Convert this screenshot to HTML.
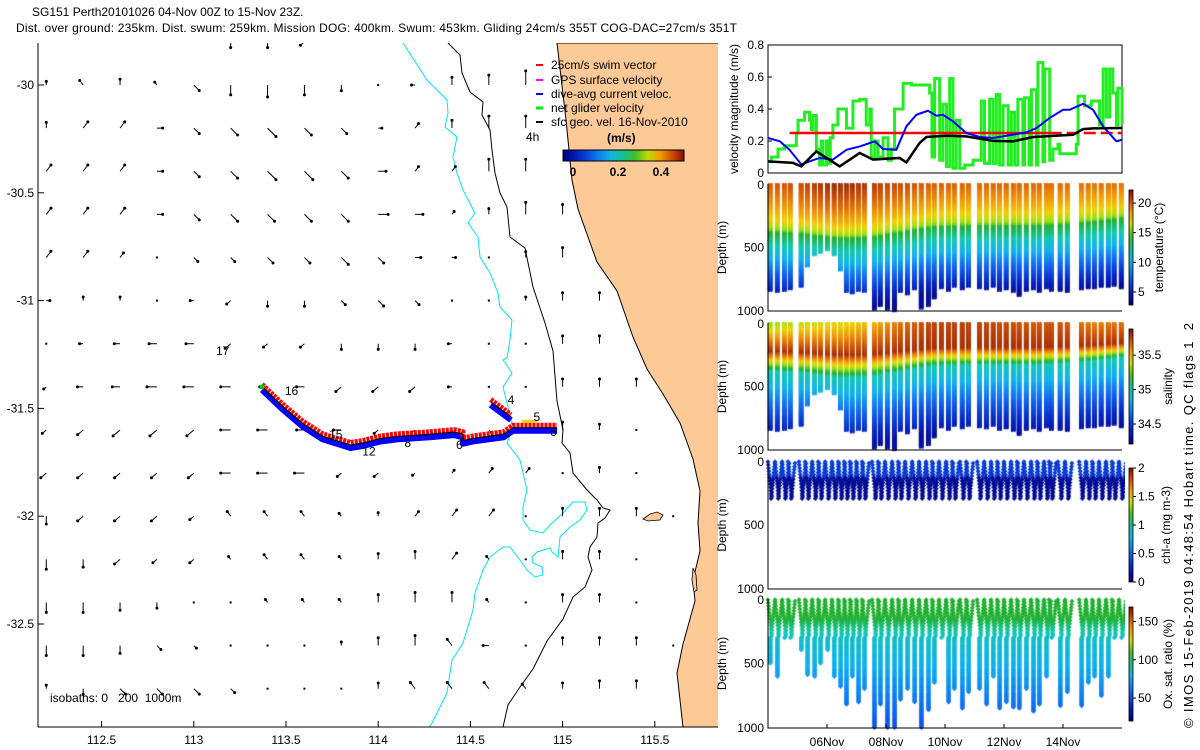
<!DOCTYPE html>
<html><head><meta charset="utf-8">
<style>
body{margin:0;background:#fff;width:1200px;height:750px;overflow:hidden;position:relative;font-family:"Liberation Sans",sans-serif}
svg{position:absolute;left:0;top:0}
canvas{position:absolute;left:760px;top:180px}
text{font-family:"Liberation Sans",sans-serif;font-size:12px;fill:#000;white-space:pre}
</style></head>
<body>
<canvas id="cv" width="365" height="555"></canvas>
<svg id="sv" width="1200" height="750" xmlns="http://www.w3.org/2000/svg">
<defs>
<clipPath id="mapclip"><rect x="38" y="43" width="680" height="684"/></clipPath>
<linearGradient id="gv" x1="0" y1="1" x2="0" y2="0"></linearGradient>
<linearGradient id="gh" x1="0" y1="0" x2="1" y2="0"></linearGradient>
</defs>
<text x="32" y="16">SG151 Perth20101026 04-Nov 00Z to 15-Nov 23Z.</text>
<text x="16" y="32" textLength="721">Dist. over ground: 235km. Dist. swum: 259km. Mission DOG: 400km. Swum: 453km. Gliding 24cm/s 355T COG-DAC=27cm/s 351T</text>
<g id="map" clip-path="url(#mapclip)">
<polygon fill="#fcc997" stroke="#000" stroke-width="1" points="557,43 566,120 572,180 578,209 597,262 617,291 633,337 647,369 663,394 680,423 693,459 700,491 698,523 700,551 693,580 695,601 683,644 677,673 683,727 720,727 720,43"/>
<polygon fill="#fcc997" stroke="#000" stroke-width="0.8" points="643,519 650,514 657,512 663,515 660,520 648,521"/>
<polygon fill="#fcc997" stroke="#000" stroke-width="0.8" points="693,568 696,575 697,590 694,592 692,580"/>
<polyline fill="none" stroke="#00e5ee" stroke-width="1" points="403,43 427,80 447,100 448,113 445,127 457,137 453,157 457,173 463,190 475,213 468,223 478,237 480,257 490,273 498,293 500,307 512,320 510,340 507,358 503,360 512,373 503,387 513,427 507,443 520,460 523,473 527,490 523,507 523,520 530,530 543,533 550,525 563,513 573,502 585,502 587,510 580,520 570,527 560,537 558,557 552,552 550,548 537,552 532,557 533,563 542,567 543,575 535,577 527,570 520,560 510,547 503,547 490,557 483,570 475,593 473,610 463,643 452,660 447,693 430,727"/>
<polyline fill="none" stroke="#000" stroke-width="1" points="448,43 460,55 462,73 470,92 483,102 482,115 490,130 492,150 495,173 500,193 507,207 510,237 525,248 533,287 545,323 553,351 557,401 563,430 562,443 570,453 573,473 587,490 597,500 603,508 610,510 605,518 598,523 597,537 590,547 588,557 592,570 585,587 573,597 563,619 547,641 533,669 520,687 508,705 503,727"/>
<g id="arrows"></g>
<g id="track"></g>
</g>
<line x1="38" y1="43" x2="38" y2="727" stroke="#000"/>
<line x1="38" y1="727" x2="718" y2="727" stroke="#000"/>
<g id="mapticks"></g>
<text x="216" y="355">17</text>
<text x="526" y="141">4h</text>
<text x="50" y="702" xml:space="preserve">isobaths: 0   200  1000m</text>
<g>
<line x1="536" y1="65" x2="543" y2="65" stroke="#f00" stroke-width="2"/>
<text x="551" y="69">25cm/s swim vector</text>
<line x1="536" y1="80" x2="543" y2="80" stroke="#f0f" stroke-width="2"/>
<text x="551" y="84">GPS surface velocity</text>
<line x1="536" y1="94" x2="543" y2="94" stroke="#00f" stroke-width="2"/>
<text x="551" y="98">dive-avg current veloc.</text>
<line x1="536" y1="108" x2="543" y2="108" stroke="#0e0" stroke-width="3"/>
<text x="551" y="112">net glider velocity</text>
<line x1="536" y1="122" x2="543" y2="122" stroke="#000" stroke-width="2"/>
<text x="551" y="126">sfc geo. vel. 16-Nov-2010</text>
<text x="607" y="142" style="font-weight:bold">(m/s)</text>
<rect x="563" y="150" width="121" height="11" fill="url(#gh)" stroke="#000" stroke-width="1"/>
<text x="573" y="176" text-anchor="middle" style="font-weight:bold">0</text>
<text x="618" y="176" text-anchor="middle" style="font-weight:bold">0.2</text>
<text x="661" y="176" text-anchor="middle" style="font-weight:bold">0.4</text>
</g>
<g id="right"></g>
<text transform="translate(1193,728) rotate(-90)" textLength="405" style="font-size:13px">© IMOS 15-Feb-2019 04:48:54 Hobart time. QC flags 1  2</text>
</svg>
<script>
// ---------- map data ----------
const vecRows = [
['--','--','--','--','.0','S2','S2','c2','.0','--','--','--','--','--','--','--','--','--','--'],
['N1','d2','N2','d1','b3','S4','S5','S4','S2','.0','W1','N3','N4','N6','--','--','--','--','--'],
['N2','a3','a3','E2','b3','b4','b5','b4','b3','E1','a2','N3','N5','N5','--','--','--','--','--'],
['a3','a3','a3','E2','b3','b4','b5','b5','b4','E3','a2','a2','N5','N5','--','--','--','--','--'],
['a3','a3','a3','E2','b3','b4','b4','b4','b4','E4','E3','a1','N2','N5','N4','--','--','--','--'],
['a3','a3','a2','.0','b2','b2','b3','b3','b4','b3','E2','E1','.0','N2','N4','--','--','--','--'],
['E1','N1','N1','.0','W1','c2','S2','S2','b2','b3','b2','.0','.0','N1','N3','N3','--','--','--'],
['.0','W1','W2','W3','W3','c3','c2','c2','S2','S2','S2','W1','.0','.0','N3','N3','--','--','--'],
['c1','W2','W3','W4','W4','W4','W3','W3','c3','c3','c3','W1','.0','.0','N3','N3','N3','--','--'],
['c2','c3','c4','c4','c4','W4','W4','W3','W3','c2','c2','c2','b1','--','N3','N2','.0','--','--'],
['c3','c3','c3','c3','c3','W4','W4','W4','c2','c2','c1','a1','a2','a2','.0','N2','.0','--','--'],
['S3','c3','c3','c3','c2','d2','d2','d2','d1','N1','a2','a3','a3','.0','N3','N3','N3','.0','--'],
['S4','S3','c3','c2','c2','d1','d2','d2','d1','N2','N3','a3','d1','.0','N3','N3','.0','--','--'],
['S4','S4','S3','S2','.0','.0','d1','d1','d1','N3','N4','N4','d1','.0','N3','N3','.0','--','--'],
['S4','S4','S3','b2','b1','.0','.0','.0','N1','N3','N4','d3','W2','.0','N3','N3','N3','.0','--'],
['N1','S2','b3','b3','b3','b2','.0','.0','.0','N2','d3','d3','d3','d2','N2','N3','N3','--','--']
];
const trackLon = [113.37,113.48,113.59,113.70,113.85,113.92,114.01,114.10,114.28,114.41,114.46,114.46,114.51,114.68,114.73,114.97];
const trackLat = [-31.40,-31.49,-31.57,-31.63,-31.67,-31.66,-31.64,-31.63,-31.62,-31.61,-31.62,-31.65,-31.64,-31.62,-31.59,-31.59];
const branchLon = [114.61,114.72];
const branchLat = [-31.47,-31.54];
const trackLabels = ['16','15','12','8','6','4','5','6'];
const trackLabelLon = [113.53,113.77,113.95,114.16,114.44,114.72,114.86,114.95];
const trackLabelLat = [-31.42,-31.62,-31.70,-31.66,-31.67,-31.46,-31.54,-31.61];
const lonTicks = [112.5,113,113.5,114,114.5,115,115.5];
const latTicks = [-30,-30.5,-31,-31.5,-32,-32.5];

// ---------- right panel data ----------
const blueDay=[0,0.40,0.73,1.13,1.41,1.75,2.20,2.66,3.11,3.62,3.90,4.35,4.69,5.03,5.42,5.71,5.93,6.27,6.72,7.18,7.63,8.08,8.76,9.10,9.55,10.0,10.23,10.68,11.02,11.36,11.81,12.0];
const blueVal=[0.219,0.198,0.145,0.053,0.073,0.094,0.084,0.145,0.166,0.198,0.150,0.145,0.291,0.364,0.389,0.358,0.364,0.323,0.250,0.225,0.219,0.233,0.254,0.281,0.344,0.395,0.395,0.433,0.395,0.291,0.198,0.208];
const blackDay=[0,0.85,1.13,1.64,2.43,3.11,3.56,4.46,4.69,5.14,5.37,6.05,6.72,7.63,8.31,8.99,10.34,10.68,11.02,12.0];
const blackVal=[0.073,0.063,0.041,0.135,0.041,0.125,0.084,0.094,0.066,0.188,0.225,0.233,0.229,0.201,0.198,0.225,0.239,0.274,0.279,0.281];
const greenDay=[0,0.11,0.34,0.56,0.96,1.02,1.24,1.41,1.47,1.53,1.64,1.75,1.81,1.86,1.98,2.03,2.11,2.20,2.37,2.66,2.88,3.11,3.33,3.45,3.50,3.62,3.73,3.90,4.07,4.18,4.29,4.58,4.86,5.48,5.56,5.65,5.82,5.93,6.05,6.16,6.27,6.38,6.50,6.67,6.95,7.23,7.34,7.51,7.63,7.74,7.85,7.97,8.14,8.25,8.36,8.47,8.64,8.70,8.85,8.93,9.10,9.15,9.32,9.38,9.55,9.66,9.83,9.89,10.28,10.45,10.51,10.73,10.96,11.13,11.24,11.36,11.47,11.58,11.69,11.81,11.86,12.0];
const greenVal=[0.07,0.10,0.15,0.17,0.25,0.33,0.38,0.33,0.27,0.36,0.15,0.05,0.20,0.05,0.20,0.06,0.22,0.30,0.40,0.28,0.45,0.46,0.30,0.40,0.10,0.20,0.10,0.22,0.08,0.15,0.40,0.56,0.55,0.50,0.10,0.59,0.08,0.43,0.04,0.59,0.03,0.33,0.03,0.05,0.08,0.45,0.06,0.46,0.06,0.49,0.05,0.42,0.05,0.38,0.05,0.46,0.05,0.47,0.05,0.52,0.05,0.69,0.07,0.65,0.08,0.15,0.18,0.12,0.12,0.18,0.48,0.42,0.45,0.45,0.30,0.65,0.35,0.65,0.50,0.30,0.53,0.30];
const swimSpeed=0.25, swimStart=0.73, swimDashStart=9.55;
const velTicks=[0,0.2,0.4,0.6,0.8];
const dateTickDay=[2,4,6,8,10];
const dateTickLabel=['06Nov','08Nov','10Nov','12Nov','14Nov'];
const diveDay=[0.03,0.27,0.51,0.71,1.08,1.29,1.53,1.73,1.97,2.20,2.41,2.61,2.81,3.02,3.22,3.56,3.76,4.0,4.24,4.44,4.68,4.92,5.15,5.39,5.59,5.83,6.07,6.27,6.54,6.75,7.12,7.36,7.59,7.80,8.03,8.27,8.47,8.71,8.95,9.15,9.39,9.56,9.86,10.10,10.58,10.81,11.02,11.25,11.49,11.69,11.93];
const diveMax=[840,850,840,830,810,650,560,540,520,560,680,850,860,840,850,990,960,990,1000,850,870,830,980,960,900,820,840,810,830,810,820,830,810,840,830,850,880,840,830,850,820,840,840,850,830,820,820,810,810,800,820];
const oxMax=[500,600,300,300,400,590,600,500,400,600,680,820,600,800,700,1000,820,1000,1000,780,700,800,1000,860,650,300,800,700,850,720,700,820,600,850,800,840,850,700,870,820,600,300,830,720,830,650,600,750,600,300,300];
const tcDay=[0,1,2,2.5,3.5,4.5,5.5,7,9,10,11,12];
const tcDep=[380,390,420,430,420,380,340,330,330,320,300,270];
const surfT=[20,20.5,21.5,21.5,21,20.5,20,19.8,19.8,19.6,19.5,19.5];
const surfS=[35.3,35.35,35.4,35.4,35.5,35.65,35.75,35.75,35.7,35.7,35.6,35.65];
const tempTicks=[5,10,15,20], salTicks=[34.5,35,35.5], chlTicks=[0,0.5,1,1.5,2], oxTicks=[50,100,150];

// ---------- helpers ----------
const NS='http://www.w3.org/2000/svg';
function mk(tag, attrs, parent){const e=document.createElementNS(NS,tag);for(const k in attrs)e.setAttribute(k,attrs[k]);(parent||document.getElementById('sv')).appendChild(e);return e;}
const lonX = lon => 101.6 + (lon-112.5)*184.4;
const latY = lat => 85 + (-30-lat)*215.6;
const dayX = d => 768 + d*29.5;
const velY = v => 173 - v*160;
const stops=[[0,[0,0,128]],[0.12,[0,32,192]],[0.25,[16,96,240]],[0.37,[16,176,240]],[0.47,[16,200,176]],[0.57,[32,176,48]],[0.67,[160,224,16]],[0.74,[240,208,0]],[0.82,[240,144,0]],[0.9,[208,80,0]],[1,[128,16,0]]];
function cmap(t){t=Math.max(0,Math.min(1,t));for(let i=1;i<stops.length;i++){if(t<=stops[i][0]){const a=stops[i-1],b=stops[i],f=(t-a[0])/(b[0]-a[0]);return 'rgb('+[0,1,2].map(k=>Math.round(a[1][k]+(b[1][k]-a[1][k])*f)).join(',')+')';}}return 'rgb(128,16,0)';}
function interp(xs,ys,x){if(x<=xs[0])return ys[0];for(let i=1;i<xs.length;i++){if(x<=xs[i]){const f=(x-xs[i-1])/(xs[i]-xs[i-1]);return ys[i-1]+(ys[i]-ys[i-1])*f;}}return ys[ys.length-1];}
['gv','gh'].forEach(id=>{const g=document.getElementById(id);for(let i=0;i<=10;i++){const s=document.createElementNS(NS,'stop');s.setAttribute('offset',(i*10)+'%');s.setAttribute('stop-color',cmap(i/10));g.appendChild(s);}});

// ---------- vector field ----------
const dirs={N:[0,-1],S:[0,1],E:[1,0],W:[-1,0],a:[0.6,-0.8],b:[0.7,0.7],c:[-0.7,0.6],d:[-0.6,-0.8]};
const ag=document.getElementById('arrows');
vecRows.forEach((row,j)=>{const lat=-29.8-0.2*j;row.forEach((code,i)=>{
  if(code==='--')return;const lon=112.2+0.2*i;const x=lonX(lon),y=latY(lat);
  if(code[0]==='.'){const dt=mk('rect',{x:x-1,y:y-1,width:2,height:2,fill:'#000'},ag);
    
    return;}
  const d=dirs[code[0]],L=(+code[1])*2.1+1.5;const tx=x+d[0]*L,ty=y+d[1]*L;
  const ln=mk('line',{x1:x,y1:y,x2:tx,y2:ty,stroke:'#000','stroke-width':1},ag);
  
  
  const hd=mk('circle',{cx:tx,cy:ty,r:1.5,fill:'#000'},ag);
  
  
});});

// ---------- track ----------
const tg=document.getElementById('track');
function pts(lons,lats,dy){return lons.map((l,i)=>lonX(l)+','+(latY(lats[i])+dy)).join(' ');}
[[trackLon,trackLat],[branchLon,branchLat]].forEach(([lo,la],k)=>{
  const b=mk('polyline',{points:pts(lo,la,3),fill:'none',stroke:'#0000ff','stroke-width':6,'stroke-linejoin':'round'},tg);
  
  
  const r=mk('polyline',{points:pts(lo,la,-2.5),fill:'none',stroke:'#ff0000','stroke-width':5,'stroke-dasharray':'3 1','stroke-linejoin':'round'},tg);
  
  
  const c=mk('polyline',{points:pts(lo,la,0),fill:'none',stroke:'#000','stroke-width':1.2},tg);
  
  
});
const ys=mk('line',{x1:lonX(114.78),y1:latY(-31.56),x2:lonX(114.86),y2:latY(-31.56),stroke:'#f0d000','stroke-width':3},tg);


const st=mk('circle',{cx:lonX(trackLon[0]),cy:latY(trackLat[0]),r:2.5,fill:'#0c0'},tg);


trackLabels.forEach((s,i)=>{const t=mk('text',{x:lonX(trackLabelLon[i]),y:latY(trackLabelLat[i])+4,'text-anchor':'middle'},tg);t.textContent=s;
  
  });

// ---------- map ticks ----------
const mt=document.getElementById('mapticks');
lonTicks.forEach(l=>{const x=lonX(l);const tk=mk('line',{x1:x,y1:727,x2:x,y2:721,stroke:'#000'},mt);
  
  
  const t=mk('text',{x:x,y:744,'text-anchor':'middle'},mt);t.textContent=String(l);
  
  });
latTicks.forEach(l=>{const y=latY(l);const tk=mk('line',{x1:38,y1:y,x2:44,y2:y,stroke:'#000'},mt);
  
  
  const t=mk('text',{x:34,y:y+4,'text-anchor':'end'},mt);t.textContent=String(l);
  
  });

// ---------- velocity panel ----------
const rg=document.getElementById('right');
const box=mk('rect',{x:768,y:45,width:354,height:128,fill:'none',stroke:'#000'},rg);


velTicks.forEach(v=>{const y=velY(v);const tk=mk('line',{x1:768,y1:y,x2:772,y2:y,stroke:'#000'},rg);
  
  
  const t=mk('text',{x:764,y:y+4,'text-anchor':'end'},rg);t.textContent=String(v);
  
  });
const vl=mk('text',{transform:'translate(738,109) rotate(-90)','text-anchor':'middle'},rg);vl.textContent='velocity magnitude (m/s)';


let gp='M'+dayX(greenDay[0])+','+velY(greenVal[0]);
for(let i=1;i<greenDay.length;i++){gp+=' H'+dayX(greenDay[i])+' V'+velY(greenVal[i]);}
const gl=mk('path',{d:gp,fill:'none',stroke:'#22ee22','stroke-width':3},rg);


const rs=mk('line',{x1:dayX(swimStart),y1:velY(swimSpeed),x2:dayX(swimDashStart),y2:velY(swimSpeed),stroke:'#f00','stroke-width':2.5},rg);


const rd=mk('line',{x1:dayX(swimDashStart),y1:velY(swimSpeed),x2:dayX(12),y2:velY(swimSpeed),stroke:'#f00','stroke-width':2.5,'stroke-dasharray':'12 5'},rg);


const bl=mk('polyline',{points:blueDay.map((d,i)=>dayX(d)+','+velY(blueVal[i])).join(' '),fill:'none',stroke:'#0000ff','stroke-width':2},rg);


const kl=mk('polyline',{points:blackDay.map((d,i)=>dayX(d)+','+velY(blackVal[i])).join(' '),fill:'none',stroke:'#000','stroke-width':2.5},rg);



// ---------- depth panels ----------
const panels=[{top:184,bot:311,name:'temperature',title:'temperature (°C)',cb:[190,305],lo:2.8,hi:22.2,ticks:tempTicks,tx:1163},
{top:323,bot:450,name:'salinity',title:'salinity',cb:[329,444],lo:34.21,hi:35.88,ticks:salTicks,tx:1172},
{top:461,bot:589,name:'chl-a',title:'chl-a (mg m-3)',cb:[468,582],lo:0,hi:2,ticks:chlTicks,tx:1170},
{top:599,bot:728,name:'oxygen',title:'Ox. sat. ratio (%)',cb:[607,721],lo:20,hi:169,ticks:oxTicks,tx:1172}];
const cv=document.getElementById('cv').getContext('2d');cv.translate(-760,-180);
function dy(p,z){return p.top+z/1000*(p.bot-p.top);}
function tempAt(z,tc,sT){return z<tc?14+(sT-14)*Math.pow(1-z/tc,0.5):Math.max(3.5,14-(z-tc)*0.0195);}
function salAt(z,tc,sS){if(z<tc){const zm=0.6*tc;return z<zm?sS+(35.8-sS)*(z/zm):35.8-0.75*((z-zm)/(tc-zm));}return Math.max(34.3,35.0-(z-tc)*0.0013);}
function oxAt(z){return z<150?105:z<300?105-(z-150)*0.13:85-(z-300)*0.045;}
function diamond(x,y,c){cv.fillStyle=c;cv.beginPath();cv.moveTo(x,y-2.5);cv.lineTo(x+2.5,y);cv.lineTo(x,y+2.5);cv.lineTo(x-2.5,y);cv.fill();}
diveDay.forEach((d,i)=>{
  const x0=dayX(d);const tc=interp(tcDay,tcDep,d),sT=interp(tcDay,surfT,d),sS=interp(tcDay,surfS,d);
  for(let z=0;z<=diveMax[i];z+=4){
    const p0=panels[0],p1=panels[1];
    cv.fillStyle=cmap((tempAt(z,tc,sT)-p0.lo)/(p0.hi-p0.lo));
    cv.fillRect(x0-1,dy(p0,z)-1,2,2.2);cv.fillRect(x0+1.5,dy(p0,z)-1,2,2.2);
    cv.fillStyle=cmap((salAt(z,tc,sS)-p1.lo)/(p1.hi-p1.lo));
    cv.fillRect(x0-1,dy(p1,z)-1,2,2.2);cv.fillRect(x0+1.5,dy(p1,z)-1,2,2.2);
  }
  const p2=panels[2],p3=panels[3];
  for(let z=5;z<=300;z+=25){const off=(z/300)*4;
    const cv1=z<110?0.35:0.08;
    diamond(x0-1+off,dy(p2,z),cmap(cv1/2));diamond(x0+6-off,dy(p2,z+12),cmap(cv1/2));
    diamond(x0-1+off,dy(p3,z),cmap((oxAt(z)-p3.lo)/(p3.hi-p3.lo)));diamond(x0+6-off,dy(p3,z+12),cmap((oxAt(z+12)-p3.lo)/(p3.hi-p3.lo)));
  }
  for(let z=300;z<=oxMax[i];z+=6){diamond(x0+1.5,dy(p3,z),cmap((oxAt(z)-p3.lo)/(p3.hi-p3.lo)));}
});
panels.forEach((p,k)=>{
  const a=mk('polyline',{points:'768,'+p.top+' 768,'+p.bot+' 1122,'+p.bot,fill:'none',stroke:'#000'},rg);
  
  
  [0,500,1000].forEach(z=>{const t=mk('text',{x:764,y:dy(p,z)+(z===0?5:4),'text-anchor':'end'},rg);t.textContent=String(z);
    
    });
  const yl=mk('text',{transform:'translate(726,'+((p.top+p.bot)/2)+') rotate(-90)','text-anchor':'middle'},rg);yl.textContent='Depth (m)';
  
  
  const cb=mk('rect',{x:1129,y:p.cb[0],width:4,height:p.cb[1]-p.cb[0],fill:'url(#gv)',stroke:'#000','stroke-width':0.8},rg);
  
  
  p.ticks.forEach(v=>{const y=p.cb[1]-(v-p.lo)/(p.hi-p.lo)*(p.cb[1]-p.cb[0]);
    const tk=mk('line',{x1:1133,y1:y,x2:1136,y2:y,stroke:'#000'},rg);
    
    
    const t=mk('text',{x:1138,y:y+4},rg);t.textContent=String(v);
    
    });
  const ct=mk('text',{transform:'translate('+p.tx+','+((p.cb[0]+p.cb[1])/2)+') rotate(-90)','text-anchor':'middle'},rg);ct.textContent=p.title;
  
  
});
dateTickDay.forEach((d,i)=>{const x=dayX(d);
  const tk=mk('line',{x1:x,y1:728,x2:x,y2:724,stroke:'#000'},rg);
  
  
  const t=mk('text',{x:x,y:746,'text-anchor':'middle'},rg);t.textContent=dateTickLabel[i];
  
  });
</script>
</body></html>
